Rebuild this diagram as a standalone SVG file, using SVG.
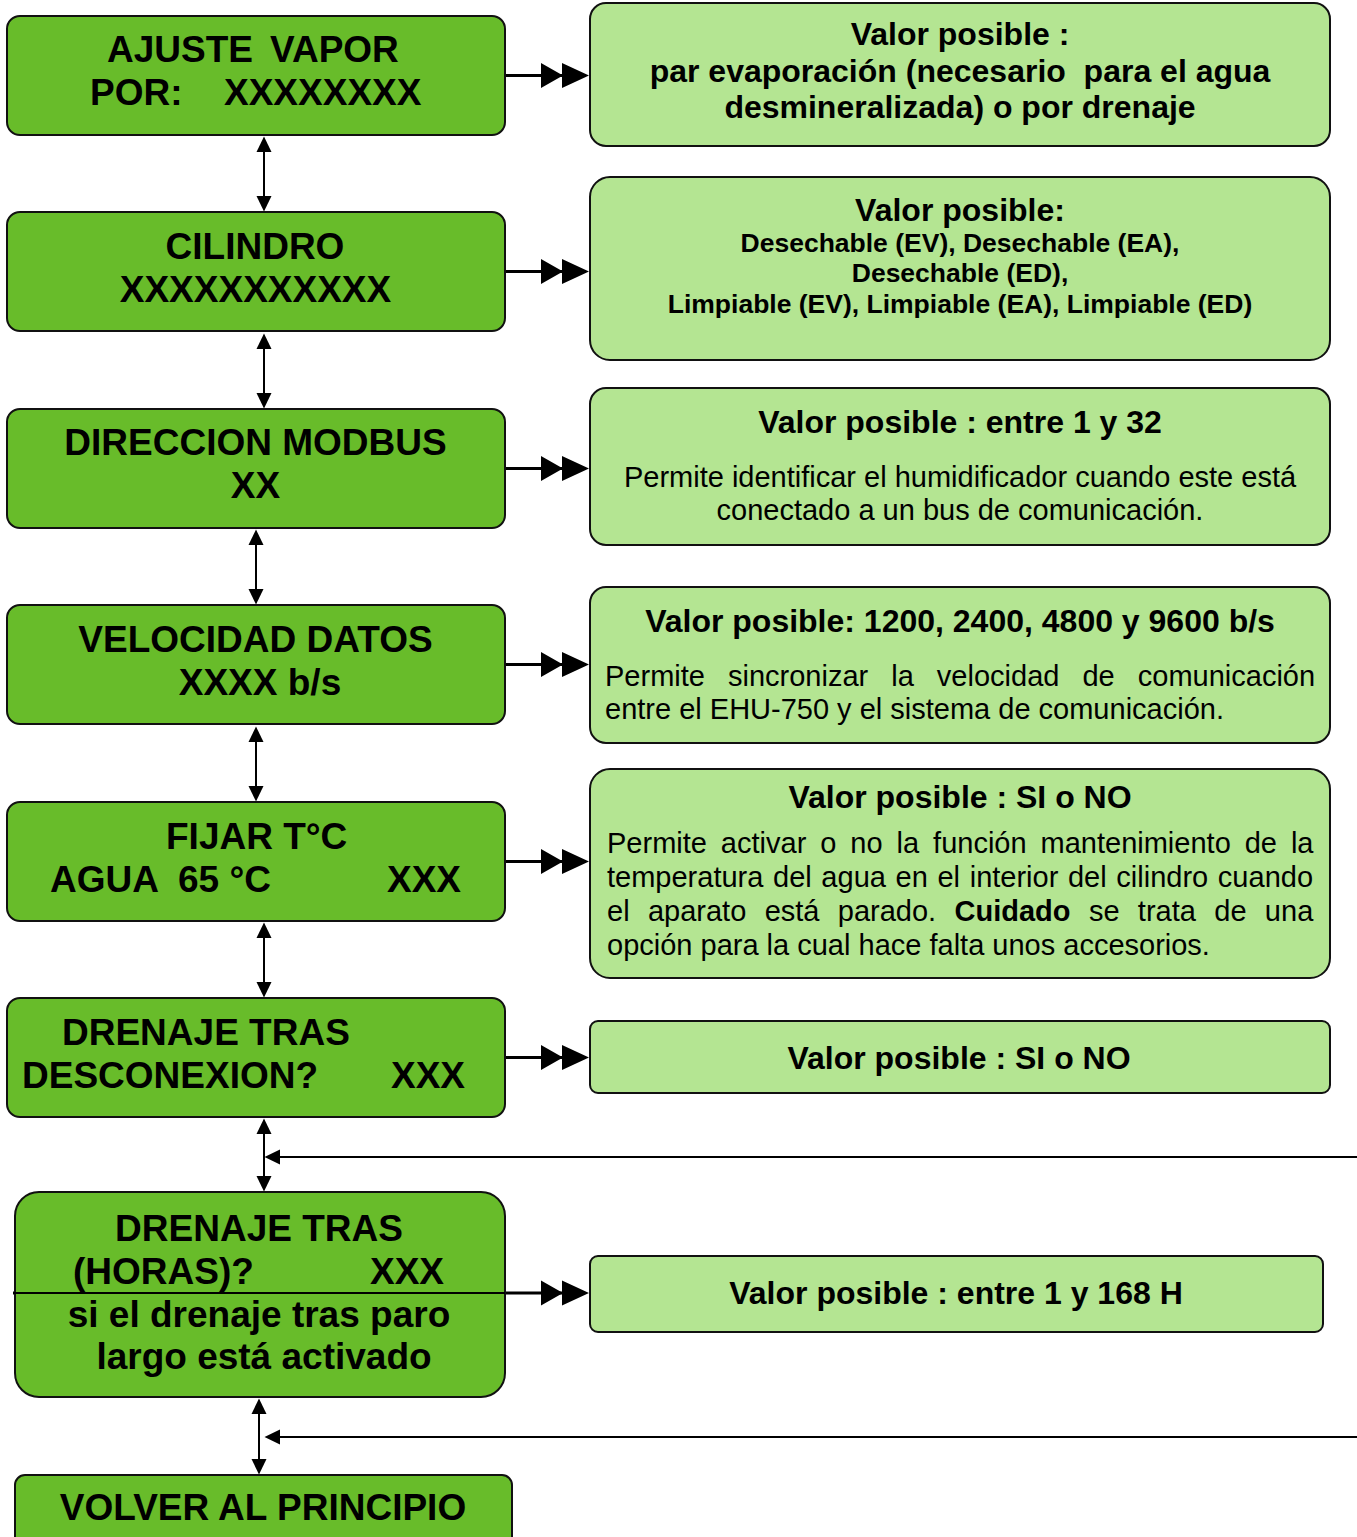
<svg xmlns="http://www.w3.org/2000/svg" width="1357" height="1537" viewBox="0 0 1357 1537">
  <style>
    .menu { fill: #68BC2A; stroke: #111; stroke-width: 2; }
    .info { fill: #B4E592; stroke: #111; stroke-width: 2; }
    .mt { font-family: "Liberation Sans", Arial, sans-serif; font-weight: bold; font-size: 37px; fill: #000; }
    .ttl { font-family: "Liberation Sans", Arial, sans-serif; font-weight: bold; font-size: 32px; fill: #000; }
    .sub { font-family: "Liberation Sans", Arial, sans-serif; font-weight: bold; font-size: 26.5px; fill: #000; }
    .body { font-family: "Liberation Sans", Arial, sans-serif; font-size: 29px; fill: #000; }
    .c { text-anchor: middle; }
    .pre { white-space: pre; }
    .link { stroke: #000; stroke-width: 3; fill: none; marker-end: url(#dbl); }
    .nav { stroke: #000; stroke-width: 2; fill: none; marker-start: url(#tri); marker-end: url(#tri); }
    .ret { stroke: #000; stroke-width: 2; fill: none; marker-end: url(#tri); }
  </style>
  <defs>
    <marker id="dbl" markerUnits="userSpaceOnUse" viewBox="0 0 48 26" markerWidth="48" markerHeight="26" refX="34" refY="13" orient="auto">
      <path d="M0,0.5 L22,13 L0,25.5 Z M21,0.5 L48,13 L21,25.5 Z" fill="#000"/>
    </marker>
    <marker id="tri" markerUnits="userSpaceOnUse" viewBox="0 0 16 16" markerWidth="16" markerHeight="16" refX="0" refY="8" orient="auto-start-reverse">
      <path d="M0,0.5 L15.5,8 L0,15.5 Z" fill="#000"/>
    </marker>
  </defs>

  <!-- connectors -->
  <g id="connectors">
    <line class="link" x1="505" y1="75.5" x2="575" y2="75.5"/>
    <line class="link" x1="505" y1="271.5" x2="575" y2="271.5"/>
    <line class="link" x1="505" y1="468.5" x2="575" y2="468.5"/>
    <line class="link" x1="505" y1="664.5" x2="575" y2="664.5"/>
    <line class="link" x1="505" y1="861.5" x2="575" y2="861.5"/>
    <line class="link" x1="505" y1="1057.5" x2="575" y2="1057.5"/>
    <line class="link" x1="13" y1="1293" x2="575" y2="1293"/>

    <line class="nav" x1="264" y1="152" x2="264" y2="196"/>
    <line class="nav" x1="264" y1="349" x2="264" y2="393"/>
    <line class="nav" x1="256" y1="545" x2="256" y2="589"/>
    <line class="nav" x1="256" y1="742" x2="256" y2="786"/>
    <line class="nav" x1="264" y1="938" x2="264" y2="982"/>
    <line class="nav" x1="264" y1="1134" x2="264" y2="1176"/>
    <line class="nav" x1="259" y1="1414" x2="259" y2="1459"/>

    <line class="ret" x1="1357" y1="1157" x2="280" y2="1157"/>
    <line class="ret" x1="1357" y1="1437" x2="280" y2="1437"/>
  </g>

  <!-- menu screens -->
  <g id="node-ajuste-vapor">
    <rect class="menu" x="7" y="16" width="498" height="119" rx="13"/>
    <text class="mt" y="62"><tspan x="107">AJUSTE</tspan><tspan x="270">VAPOR</tspan></text>
    <text class="mt" y="105"><tspan x="90">POR:</tspan><tspan x="224">XXXXXXXX</tspan></text>
  </g>
  <g id="node-cilindro">
    <rect class="menu" x="7" y="212" width="498" height="119" rx="13"/>
    <text class="mt c" x="255" y="259">CILINDRO</text>
    <text class="mt c" x="255.5" y="302">XXXXXXXXXXX</text>
  </g>
  <g id="node-direccion">
    <rect class="menu" x="7" y="409" width="498" height="119" rx="13"/>
    <text class="mt c" x="255.5" y="455">DIRECCION MODBUS</text>
    <text class="mt c" x="255.5" y="498">XX</text>
  </g>
  <g id="node-velocidad">
    <rect class="menu" x="7" y="605" width="498" height="119" rx="13"/>
    <text class="mt c" x="255.5" y="652">VELOCIDAD DATOS</text>
    <text class="mt c" x="260" y="695">XXXX b/s</text>
  </g>
  <g id="node-fijar-temp">
    <rect class="menu" x="7" y="802" width="498" height="119" rx="13"/>
    <text class="mt" x="166" y="849">FIJAR T°C</text>
    <text class="mt" y="892"><tspan x="50">AGUA</tspan><tspan x="178">65 °C</tspan><tspan x="387">XXX</tspan></text>
  </g>
  <g id="node-drenaje-desconexion">
    <rect class="menu" x="7" y="998" width="498" height="119" rx="13"/>
    <text class="mt" x="62" y="1045">DRENAJE TRAS</text>
    <text class="mt" y="1088"><tspan x="22">DESCONEXION?</tspan><tspan x="391">XXX</tspan></text>
  </g>
  <g id="node-drenaje-horas">
    <rect class="menu" x="15" y="1192" width="490" height="205" rx="24"/>
    <text class="mt c" x="259" y="1241">DRENAJE TRAS</text>
    <text class="mt" y="1284"><tspan x="73">(HORAS)?</tspan><tspan x="370">XXX</tspan></text>
    <line x1="13" y1="1293" x2="505" y2="1293" stroke="#000" stroke-width="2"/>
    <text class="mt c" x="259" y="1327">si el drenaje tras paro</text>
    <text class="mt c" x="264" y="1369">largo está activado</text>
  </g>
  <g id="node-volver">
    <rect class="menu" x="15" y="1475" width="497" height="90" rx="10"/>
    <text class="mt c" x="263" y="1520">VOLVER AL PRINCIPIO</text>
  </g>

  <!-- value descriptions -->
  <g id="info-ajuste-vapor">
    <rect class="info" x="590" y="3" width="740" height="143" rx="16"/>
    <text class="ttl c" x="960" y="45">Valor posible :</text>
    <text class="ttl c pre" x="960" y="82" xml:space="preserve">par evaporación (necesario  para el agua</text>
    <text class="ttl c" x="960" y="118">desmineralizada) o por drenaje</text>
  </g>
  <g id="info-cilindro">
    <rect class="info" x="590" y="177" width="740" height="183" rx="20"/>
    <text class="ttl c" x="960" y="221">Valor posible:</text>
    <text class="sub c" x="960" y="252">Desechable (EV), Desechable (EA),</text>
    <text class="sub c" x="960" y="282">Desechable (ED),</text>
    <text class="sub c" x="960" y="313">Limpiable (EV), Limpiable (EA), Limpiable (ED)</text>
  </g>
  <g id="info-direccion">
    <rect class="info" x="590" y="388" width="740" height="157" rx="16"/>
    <text class="ttl c" x="960" y="433">Valor posible : entre 1 y 32</text>
    <text class="body c" x="960" y="487">Permite identificar el humidificador cuando este está</text>
    <text class="body c" x="960" y="520">conectado a un bus de comunicación.</text>
  </g>
  <g id="info-velocidad">
    <rect class="info" x="590" y="587" width="740" height="156" rx="16"/>
    <text class="ttl c" x="960" y="632">Valor posible: 1200, 2400, 4800 y 9600 b/s</text>
    <text class="body" x="605" y="686" word-spacing="15">Permite sincronizar la velocidad de comunicación</text>
    <text class="body" x="605" y="719">entre el EHU-750 y el sistema de comunicación.</text>
  </g>
  <g id="info-fijar-temp">
    <rect class="info" x="590" y="769" width="740" height="209" rx="20"/>
    <text class="ttl c" x="960" y="808">Valor posible : SI o NO</text>
    <text class="body" x="607" y="853" word-spacing="5.9">Permite activar o no la función mantenimiento de la</text>
    <text class="body" x="607" y="887" word-spacing="1.6">temperatura del agua en el interior del cilindro cuando</text>
    <text class="body" x="607" y="921" word-spacing="10.3">el aparato está parado. <tspan font-weight="bold">Cuidado</tspan> se trata de una</text>
    <text class="body" x="607" y="955">opción para la cual hace falta unos accesorios.</text>
  </g>
  <g id="info-drenaje-desconexion">
    <rect class="info" x="590" y="1021" width="740" height="72" rx="8"/>
    <text class="ttl c" x="959" y="1069">Valor posible : SI o NO</text>
  </g>
  <g id="info-drenaje-horas">
    <rect class="info" x="590" y="1256" width="733" height="76" rx="8"/>
    <text class="ttl c" x="956" y="1304">Valor posible : entre 1 y 168 H</text>
  </g>
</svg>
